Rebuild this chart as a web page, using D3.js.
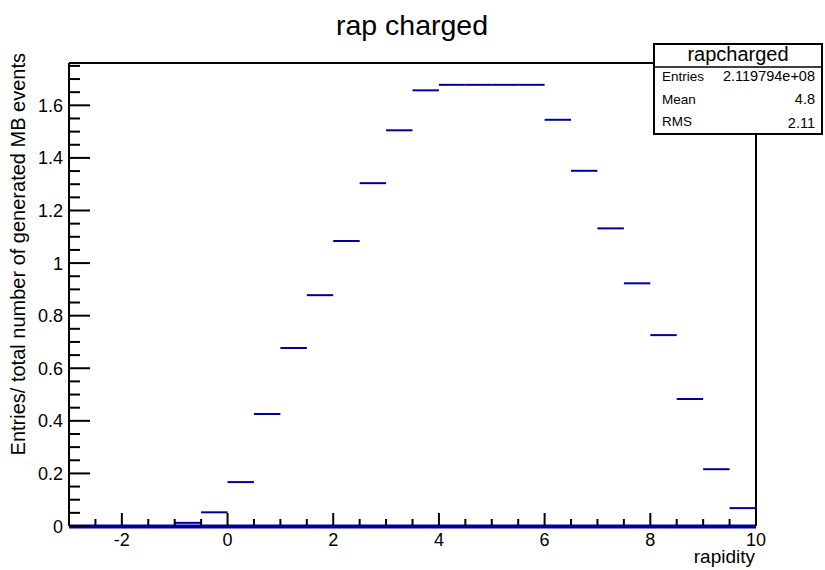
<!DOCTYPE html>
<html><head><meta charset="utf-8">
<script src="https://cdn.jsdelivr.net/npm/d3@7"></script>
<style>body{margin:0;background:#fff}svg{display:block}text{font-family:"Liberation Sans",Arial,Helvetica,sans-serif}</style>
</head><body>
<svg id="c" width="825" height="570"></svg>
<script>
const binEdgesLow = [-3,-2.5,-2,-1.5,-1,-0.5,0,0.5,1,1.5,2,2.5,3,3.5,4,4.5,5,5.5,6,6.5,7,7.5,8,8.5,9,9.5];
const binWidth = 0.5;
const values = [0,0,0,0,0.012,0.052,0.167,0.426,0.677,0.878,1.084,1.304,1.505,1.657,1.678,1.678,1.678,1.678,1.545,1.351,1.132,0.923,0.726,0.483,0.216,0.068];
const xMajorTicks = [-2,0,2,4,6,8,10];
const yMajorTicks = [0,0.2,0.4,0.6,0.8,1,1.2,1.4,1.6];
const statsLabels = ["Entries","Mean","RMS"];
const statsValues = ["2.119794e+08","4.8","2.11"];
const title = "rap charged";
const statsTitle = "rapcharged";
const xTitle = "rapidity";
const yTitle = "Entries/ total number of generated MB events";

const svg = d3.select("#c");
const L=69, R=756, T=63, B=526;
const x = d3.scaleLinear().domain([-3,10]).range([L,R]);
const y = d3.scaleLinear().domain([0,1.761]).range([B,T]);
const col = "#000099";

// title
svg.append("text").attr("x",412).attr("y",35).attr("text-anchor","middle")
  .attr("font-size",28.5).text(title);

// bars
const g = svg.append("g");
g.append("line").attr("x1",x(-3)).attr("x2",x(10)).attr("y1",y(0)+0.5).attr("y2",y(0)+0.5)
  .attr("stroke",col).attr("stroke-width",4);
binEdgesLow.forEach((lo,i)=>{
  g.append("line").attr("x1",x(lo)).attr("x2",x(lo+binWidth))
    .attr("y1",y(values[i])).attr("y2",y(values[i]))
    .attr("stroke",col).attr("stroke-width",2);
});

// frame
const fr = svg.append("g").attr("stroke","#000").attr("stroke-width",2).attr("fill","none");
fr.append("line").attr("x1",L).attr("x2",L).attr("y1",T).attr("y2",B);
fr.append("line").attr("x1",L).attr("x2",653).attr("y1",T).attr("y2",T);
fr.append("line").attr("x1",R).attr("x2",R).attr("y1",134).attr("y2",B);

// x axis ticks
const xMinor = d3.range(-3,10.001,0.5);
const xt = svg.append("g").attr("stroke","#000").attr("stroke-width",2);
xMinor.forEach(v=>{
  const major = xMajorTicks.some(m=>Math.abs(m-v)<1e-6);
  xt.append("line").attr("x1",x(v)).attr("x2",x(v)).attr("y1",B).attr("y2",B-(major?13:7));
});
xMajorTicks.forEach(v=>{
  svg.append("text").attr("x",x(v)).attr("y",B+20).attr("text-anchor","middle")
    .attr("font-size",18).text(String(v));
});
svg.append("text").attr("x",R-1).attr("y",563).attr("text-anchor","end").attr("font-size",19).text(xTitle);

// y axis ticks
const yMinor = d3.range(0,1.7601,0.05);
const yt = svg.append("g").attr("stroke","#000").attr("stroke-width",2);
yMinor.forEach(v=>{
  const major = yMajorTicks.some(m=>Math.abs(m-v)<1e-6);
  yt.append("line").attr("x1",L).attr("x2",L+(major?21:11)).attr("y1",y(v)).attr("y2",y(v));
});
yMajorTicks.forEach(v=>{
  svg.append("text").attr("x",63).attr("y",y(v)+6.5).attr("text-anchor","end")
    .attr("font-size",18).text(String(v));
});
svg.append("text").attr("transform",`translate(25,53) rotate(-90)`).attr("text-anchor","end")
  .attr("font-size",20).text(yTitle);

// stats box
const sb = svg.append("g");
sb.append("rect").attr("x",654).attr("y",44).attr("width",168).attr("height",90)
  .attr("fill","#fff").attr("stroke","#000").attr("stroke-width",2);
sb.append("line").attr("x1",653).attr("x2",822).attr("y1",67).attr("y2",67).attr("stroke","#000").attr("stroke-width",1.5);
sb.append("text").attr("x",738).attr("y",61).attr("text-anchor","middle").attr("font-size",20).text(statsTitle);
const rowY = [81,103.5,126];
statsLabels.forEach((s,i)=>{
  sb.append("text").attr("x",662).attr("y",rowY[i]).attr("font-size",13.5).text(s);
  sb.append("text").attr("x",815).attr("y",rowY[i]+(i==2?1.5:0)).attr("text-anchor","end").attr("font-size",14.5).text(statsValues[i]);
});
</script>
</body></html>
